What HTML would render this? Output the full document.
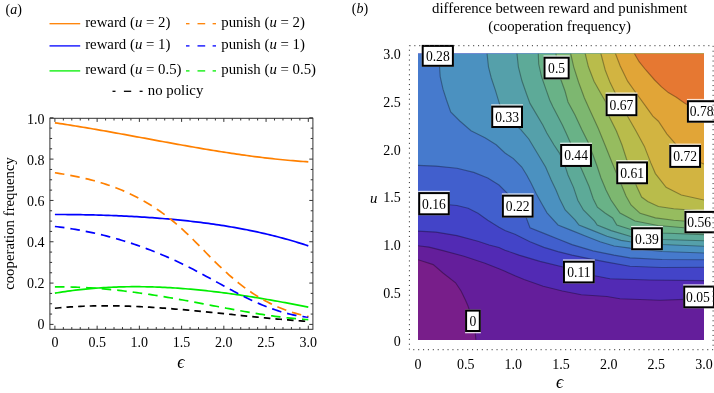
<!DOCTYPE html><html><head><meta charset="utf-8"><style>html,body{margin:0;padding:0;background:#fff;}svg{display:block;will-change:transform;}text{font-family:"Liberation Serif",serif;fill:#000;}</style></head><body>
<svg width="714" height="393" viewBox="0 0 714 393">
<rect width="714" height="393" fill="#fff"/>
<text x="5.5" y="14" font-size="14">(<tspan font-style="italic">a</tspan>)</text>
<line x1="49.5" y1="23.7" x2="80.2" y2="23.7" stroke="#ff8000" stroke-width="1.3"/>
<text x="85.2" y="27" font-size="14.8">reward (<tspan font-style="italic">u</tspan> = 2)</text>
<line x1="186.0" y1="23.7" x2="189.5" y2="23.7" stroke="#ff8000" stroke-width="1.3"/>
<line x1="197.5" y1="23.7" x2="205.2" y2="23.7" stroke="#ff8000" stroke-width="1.3"/>
<line x1="212.6" y1="23.7" x2="216.0" y2="23.7" stroke="#ff8000" stroke-width="1.3"/>
<text x="221.3" y="27" font-size="14.8">punish (<tspan font-style="italic">u</tspan> = 2)</text>
<line x1="49.5" y1="45.9" x2="80.2" y2="45.9" stroke="#0000ff" stroke-width="1.3"/>
<text x="85.2" y="49.2" font-size="14.8">reward (<tspan font-style="italic">u</tspan> = 1)</text>
<line x1="186.0" y1="45.9" x2="189.5" y2="45.9" stroke="#0000ff" stroke-width="1.3"/>
<line x1="197.5" y1="45.9" x2="205.2" y2="45.9" stroke="#0000ff" stroke-width="1.3"/>
<line x1="212.6" y1="45.9" x2="216.0" y2="45.9" stroke="#0000ff" stroke-width="1.3"/>
<text x="221.3" y="49.2" font-size="14.8">punish (<tspan font-style="italic">u</tspan> = 1)</text>
<line x1="49.5" y1="70.9" x2="80.2" y2="70.9" stroke="#00ee00" stroke-width="1.3"/>
<text x="85.2" y="74.2" font-size="14.8">reward (<tspan font-style="italic">u</tspan> = 0.5)</text>
<line x1="186.0" y1="70.9" x2="189.5" y2="70.9" stroke="#00ee00" stroke-width="1.3"/>
<line x1="197.5" y1="70.9" x2="205.2" y2="70.9" stroke="#00ee00" stroke-width="1.3"/>
<line x1="212.6" y1="70.9" x2="216.0" y2="70.9" stroke="#00ee00" stroke-width="1.3"/>
<text x="221.3" y="74.2" font-size="14.8">punish (<tspan font-style="italic">u</tspan> = 0.5)</text>
<line x1="112.5" y1="91.3" x2="115.5" y2="91.3" stroke="#000" stroke-width="1.3"/>
<line x1="123.9" y1="91.3" x2="131.2" y2="91.3" stroke="#000" stroke-width="1.3"/>
<line x1="139.6" y1="91.3" x2="142.6" y2="91.3" stroke="#000" stroke-width="1.3"/>
<text x="147.8" y="94.6" font-size="14.8">no policy</text>
<g stroke="#333" stroke-width="1" fill="none">
<rect x="49.9" y="118.3" width="263" height="211"/>
<path d="M54.9 329.3v-3.6M54.9 118.3v3.6M63.35 329.3v-2.2M63.35 118.3v2.2M71.79 329.3v-2.2M71.79 118.3v2.2M80.24 329.3v-2.2M80.24 118.3v2.2M88.69 329.3v-2.2M88.69 118.3v2.2M97.13 329.3v-3.6M97.13 118.3v3.6M105.58 329.3v-2.2M105.58 118.3v2.2M114.03 329.3v-2.2M114.03 118.3v2.2M122.48 329.3v-2.2M122.48 118.3v2.2M130.92 329.3v-2.2M130.92 118.3v2.2M139.37 329.3v-3.6M139.37 118.3v3.6M147.82 329.3v-2.2M147.82 118.3v2.2M156.26 329.3v-2.2M156.26 118.3v2.2M164.71 329.3v-2.2M164.71 118.3v2.2M173.16 329.3v-2.2M173.16 118.3v2.2M181.6 329.3v-3.6M181.6 118.3v3.6M190.05 329.3v-2.2M190.05 118.3v2.2M198.5 329.3v-2.2M198.5 118.3v2.2M206.95 329.3v-2.2M206.95 118.3v2.2M215.39 329.3v-2.2M215.39 118.3v2.2M223.84 329.3v-3.6M223.84 118.3v3.6M232.29 329.3v-2.2M232.29 118.3v2.2M240.73 329.3v-2.2M240.73 118.3v2.2M249.18 329.3v-2.2M249.18 118.3v2.2M257.63 329.3v-2.2M257.63 118.3v2.2M266.07 329.3v-3.6M266.07 118.3v3.6M274.52 329.3v-2.2M274.52 118.3v2.2M282.97 329.3v-2.2M282.97 118.3v2.2M291.42 329.3v-2.2M291.42 118.3v2.2M299.86 329.3v-2.2M299.86 118.3v2.2M308.31 329.3v-3.6M308.31 118.3v3.6M49.9 324.4h3.6M312.9 324.4h-3.6M49.9 314.07h2.2M312.9 314.07h-2.2M49.9 303.74h2.2M312.9 303.74h-2.2M49.9 293.41h2.2M312.9 293.41h-2.2M49.9 283.08h3.6M312.9 283.08h-3.6M49.9 272.75h2.2M312.9 272.75h-2.2M49.9 262.42h2.2M312.9 262.42h-2.2M49.9 252.09h2.2M312.9 252.09h-2.2M49.9 241.76h3.6M312.9 241.76h-3.6M49.9 231.43h2.2M312.9 231.43h-2.2M49.9 221.1h2.2M312.9 221.1h-2.2M49.9 210.77h2.2M312.9 210.77h-2.2M49.9 200.44h3.6M312.9 200.44h-3.6M49.9 190.11h2.2M312.9 190.11h-2.2M49.9 179.78h2.2M312.9 179.78h-2.2M49.9 169.45h2.2M312.9 169.45h-2.2M49.9 159.12h3.6M312.9 159.12h-3.6M49.9 148.79h2.2M312.9 148.79h-2.2M49.9 138.46h2.2M312.9 138.46h-2.2M49.9 128.13h2.2M312.9 128.13h-2.2M49.9 117.8h3.6M312.9 117.8h-3.6"/>
</g>
<text x="54.9" y="346.9" font-size="14" text-anchor="middle">0</text>
<text x="97.13" y="346.9" font-size="14" text-anchor="middle">0.5</text>
<text x="139.37" y="346.9" font-size="14" text-anchor="middle">1.0</text>
<text x="181.6" y="346.9" font-size="14" text-anchor="middle">1.5</text>
<text x="223.84" y="346.9" font-size="14" text-anchor="middle">2.0</text>
<text x="266.07" y="346.9" font-size="14" text-anchor="middle">2.5</text>
<text x="308.31" y="346.9" font-size="14" text-anchor="middle">3.0</text>
<text x="44.6" y="329" font-size="14" text-anchor="end">0</text>
<text x="44.6" y="288" font-size="14" text-anchor="end">0.2</text>
<text x="44.6" y="247" font-size="14" text-anchor="end">0.4</text>
<text x="44.6" y="206" font-size="14" text-anchor="end">0.6</text>
<text x="44.6" y="165" font-size="14" text-anchor="end">0.8</text>
<text x="44.6" y="124" font-size="14" text-anchor="end">1.0</text>
<text x="177.3" y="367.6" font-size="18" font-style="italic">&#x3F5;</text>
<text transform="translate(14.2 223.5) rotate(-90)" font-size="14.8" text-anchor="middle">cooperation frequency</text>
<path d="M54.9 122.8 L57.46 123.18 L60.02 123.57 L62.58 123.95 L65.14 124.35 L67.7 124.75 L70.26 125.15 L72.82 125.56 L75.38 125.97 L77.94 126.39 L80.5 126.81 L83.06 127.23 L85.62 127.66 L88.17 128.09 L90.73 128.53 L93.29 128.97 L95.85 129.41 L98.41 129.86 L100.97 130.31 L103.53 130.76 L106.09 131.21 L108.65 131.67 L111.21 132.12 L113.77 132.58 L116.33 133.05 L118.89 133.51 L121.45 133.97 L124.01 134.44 L126.57 134.91 L129.13 135.38 L131.69 135.85 L134.25 136.32 L136.81 136.79 L139.37 137.26 L141.93 137.74 L144.49 138.21 L147.05 138.68 L149.61 139.16 L152.16 139.63 L154.72 140.1 L157.28 140.57 L159.84 141.04 L162.4 141.51 L164.96 141.98 L167.52 142.45 L170.08 142.92 L172.64 143.38 L175.2 143.85 L177.76 144.31 L180.32 144.77 L182.88 145.23 L185.44 145.68 L188 146.13 L190.56 146.58 L193.12 147.03 L195.68 147.48 L198.24 147.92 L200.8 148.36 L203.36 148.79 L205.92 149.22 L208.48 149.65 L211.04 150.08 L213.59 150.5 L216.15 150.91 L218.71 151.32 L221.27 151.73 L223.83 152.13 L226.39 152.53 L228.95 152.93 L231.51 153.31 L234.07 153.7 L236.63 154.07 L239.19 154.45 L241.75 154.81 L244.31 155.17 L246.87 155.53 L249.43 155.87 L251.99 156.22 L254.55 156.55 L257.11 156.88 L259.67 157.2 L262.23 157.52 L264.79 157.83 L267.35 158.13 L269.91 158.42 L272.47 158.71 L275.03 158.98 L277.58 159.25 L280.14 159.52 L282.7 159.77 L285.26 160.02 L287.82 160.25 L290.38 160.48 L292.94 160.7 L295.5 160.91 L298.06 161.11 L300.62 161.31 L303.18 161.49 L305.74 161.66 L308.3 161.83" fill="none" stroke="#ff8000" stroke-width="1.7"/>
<path d="M54.9 214.48 L57.46 214.49 L60.02 214.5 L62.58 214.51 L65.14 214.52 L67.7 214.54 L70.26 214.56 L72.82 214.59 L75.38 214.62 L77.94 214.66 L80.5 214.69 L83.06 214.74 L85.62 214.78 L88.17 214.83 L90.73 214.89 L93.29 214.95 L95.85 215.01 L98.41 215.08 L100.97 215.16 L103.53 215.23 L106.09 215.32 L108.65 215.4 L111.21 215.5 L113.77 215.6 L116.33 215.7 L118.89 215.81 L121.45 215.92 L124.01 216.04 L126.57 216.16 L129.13 216.29 L131.69 216.43 L134.25 216.57 L136.81 216.71 L139.37 216.87 L141.93 217.03 L144.49 217.19 L147.05 217.36 L149.61 217.54 L152.16 217.72 L154.72 217.91 L157.28 218.1 L159.84 218.3 L162.4 218.51 L164.96 218.73 L167.52 218.95 L170.08 219.17 L172.64 219.41 L175.2 219.65 L177.76 219.9 L180.32 220.15 L182.88 220.42 L185.44 220.69 L188 220.96 L190.56 221.25 L193.12 221.54 L195.68 221.84 L198.24 222.15 L200.8 222.46 L203.36 222.79 L205.92 223.12 L208.48 223.46 L211.04 223.81 L213.59 224.17 L216.15 224.54 L218.71 224.92 L221.27 225.31 L223.83 225.71 L226.39 226.12 L228.95 226.54 L231.51 226.97 L234.07 227.41 L236.63 227.87 L239.19 228.33 L241.75 228.81 L244.31 229.29 L246.87 229.79 L249.43 230.3 L251.99 230.83 L254.55 231.36 L257.11 231.91 L259.67 232.47 L262.23 233.05 L264.79 233.63 L267.35 234.24 L269.91 234.85 L272.47 235.48 L275.03 236.12 L277.58 236.78 L280.14 237.45 L282.7 238.14 L285.26 238.84 L287.82 239.55 L290.38 240.28 L292.94 241.03 L295.5 241.79 L298.06 242.57 L300.62 243.37 L303.18 244.18 L305.74 245 L308.3 245.85" fill="none" stroke="#0000ff" stroke-width="1.7"/>
<path d="M54.9 293.14 L57.46 292.72 L60.02 292.31 L62.58 291.92 L65.14 291.55 L67.7 291.19 L70.26 290.84 L72.82 290.51 L75.38 290.19 L77.94 289.89 L80.5 289.61 L83.06 289.33 L85.62 289.07 L88.17 288.83 L90.73 288.6 L93.29 288.38 L95.85 288.18 L98.41 287.99 L100.97 287.81 L103.53 287.65 L106.09 287.5 L108.65 287.37 L111.21 287.24 L113.77 287.13 L116.33 287.03 L118.89 286.95 L121.45 286.88 L124.01 286.82 L126.57 286.77 L129.13 286.73 L131.69 286.71 L134.25 286.7 L136.81 286.7 L139.37 286.71 L141.93 286.73 L144.49 286.76 L147.05 286.81 L149.61 286.87 L152.16 286.94 L154.72 287.01 L157.28 287.1 L159.84 287.2 L162.4 287.32 L164.96 287.44 L167.52 287.57 L170.08 287.71 L172.64 287.86 L175.2 288.02 L177.76 288.2 L180.32 288.38 L182.88 288.57 L185.44 288.77 L188 288.98 L190.56 289.2 L193.12 289.43 L195.68 289.66 L198.24 289.91 L200.8 290.16 L203.36 290.43 L205.92 290.7 L208.48 290.98 L211.04 291.27 L213.59 291.56 L216.15 291.87 L218.71 292.18 L221.27 292.5 L223.83 292.83 L226.39 293.17 L228.95 293.51 L231.51 293.86 L234.07 294.22 L236.63 294.58 L239.19 294.95 L241.75 295.33 L244.31 295.72 L246.87 296.11 L249.43 296.51 L251.99 296.91 L254.55 297.32 L257.11 297.74 L259.67 298.16 L262.23 298.59 L264.79 299.03 L267.35 299.47 L269.91 299.91 L272.47 300.36 L275.03 300.82 L277.58 301.28 L280.14 301.75 L282.7 302.22 L285.26 302.69 L287.82 303.17 L290.38 303.66 L292.94 304.15 L295.5 304.64 L298.06 305.14 L300.62 305.64 L303.18 306.15 L305.74 306.66 L308.3 307.17" fill="none" stroke="#00ee00" stroke-width="1.7"/>
<path d="M54.9 172.76 L57.46 173.15 L60.03 173.55 L62.59 173.97 L65.15 174.41 L67.71 174.86 L70.28 175.32 L72.84 175.81 L75.4 176.32 L77.96 176.84 L80.53 177.39 L83.09 177.96 L85.65 178.56 L88.21 179.18 L90.78 179.83 L93.34 180.5 L95.9 181.21 L98.46 181.94 L101.03 182.7 L103.59 183.5 L106.15 184.33 L108.72 185.19 L111.28 186.09 L113.84 187.02 L116.4 187.99 L118.97 189 L121.53 190.05 L124.09 191.14 L126.65 192.27 L129.22 193.44 L131.78 194.66 L134.34 195.92 L136.9 197.23 L139.47 198.58 L142.03 199.99 L144.59 201.44 L147.15 202.94 L149.72 204.5 L152.28 206.1 L154.84 207.77 L157.41 209.48 L159.97 211.25 L162.53 213.08 L165.09 214.97 L167.66 216.91 L170.22 218.92 L172.78 220.99 L175.34 223.12 L177.91 225.31 L180.47 227.57 L183.03 229.89 L185.59 232.28 L188.16 234.72 L190.72 237.22 L193.28 239.75 L195.84 242.31 L198.41 244.9 L200.97 247.51 L203.53 250.12 L206.09 252.74 L208.66 255.34 L211.22 257.93 L213.78 260.5 L216.35 263.03 L218.91 265.53 L221.47 267.98 L224.03 270.38 L226.6 272.73 L229.16 275.02 L231.72 277.26 L234.28 279.45 L236.85 281.57 L239.41 283.63 L241.97 285.63 L244.53 287.56 L247.1 289.42 L249.66 291.22 L252.22 292.95 L254.78 294.62 L257.35 296.23 L259.91 297.78 L262.47 299.27 L265.04 300.69 L267.6 302.06 L270.16 303.37 L272.72 304.62 L275.29 305.81 L277.85 306.95 L280.41 308.03 L282.97 309.06 L285.54 310.03 L288.1 310.96 L290.66 311.83 L293.22 312.65 L295.79 313.41 L298.35 314.13 L300.91 314.8 L303.47 315.43 L306.04 316 L308.6 316.53" fill="none" stroke="#ff8000" stroke-width="1.7" stroke-dasharray="9.6 6.0"/>
<path d="M54.9 226.48 L57.46 226.78 L60.02 227.1 L62.58 227.44 L65.14 227.79 L67.7 228.17 L70.26 228.56 L72.82 228.97 L75.38 229.4 L77.94 229.84 L80.5 230.3 L83.06 230.78 L85.62 231.28 L88.17 231.8 L90.73 232.34 L93.29 232.89 L95.85 233.46 L98.41 234.05 L100.97 234.66 L103.53 235.29 L106.09 235.93 L108.65 236.6 L111.21 237.28 L113.77 237.98 L116.33 238.7 L118.89 239.44 L121.45 240.2 L124.01 240.98 L126.57 241.77 L129.13 242.59 L131.69 243.42 L134.25 244.28 L136.81 245.15 L139.37 246.04 L141.93 246.95 L144.49 247.88 L147.05 248.84 L149.61 249.81 L152.16 250.79 L154.72 251.8 L157.28 252.83 L159.84 253.88 L162.4 254.95 L164.96 256.04 L167.52 257.15 L170.08 258.27 L172.64 259.42 L175.2 260.59 L177.76 261.78 L180.32 262.99 L182.88 264.22 L185.44 265.47 L188 266.74 L190.56 268.03 L193.12 269.34 L195.68 270.66 L198.24 272.01 L200.8 273.37 L203.36 274.74 L205.92 276.13 L208.48 277.52 L211.04 278.92 L213.59 280.32 L216.15 281.72 L218.71 283.13 L221.27 284.53 L223.83 285.93 L226.39 287.32 L228.95 288.7 L231.51 290.07 L234.07 291.43 L236.63 292.78 L239.19 294.11 L241.75 295.42 L244.31 296.71 L246.87 297.97 L249.43 299.21 L251.99 300.43 L254.55 301.61 L257.11 302.76 L259.67 303.88 L262.23 304.97 L264.79 306.01 L267.35 307.02 L269.91 307.99 L272.47 308.92 L275.03 309.81 L277.58 310.65 L280.14 311.46 L282.7 312.22 L285.26 312.93 L287.82 313.61 L290.38 314.23 L292.94 314.81 L295.5 315.34 L298.06 315.83 L300.62 316.26 L303.18 316.65 L305.74 316.99 L308.3 317.27" fill="none" stroke="#0000ff" stroke-width="1.7" stroke-dasharray="9.6 6.0"/>
<path d="M54.9 286.88 L57.46 286.86 L60.02 286.86 L62.58 286.87 L65.14 286.9 L67.7 286.94 L70.26 287 L72.82 287.07 L75.38 287.15 L77.94 287.24 L80.5 287.35 L83.06 287.47 L85.62 287.61 L88.17 287.75 L90.73 287.91 L93.29 288.08 L95.85 288.26 L98.41 288.46 L100.97 288.66 L103.53 288.88 L106.09 289.11 L108.65 289.35 L111.21 289.59 L113.77 289.85 L116.33 290.12 L118.89 290.4 L121.45 290.69 L124.01 290.99 L126.57 291.3 L129.13 291.61 L131.69 291.94 L134.25 292.27 L136.81 292.62 L139.37 292.97 L141.93 293.33 L144.49 293.7 L147.05 294.07 L149.61 294.45 L152.16 294.84 L154.72 295.24 L157.28 295.65 L159.84 296.06 L162.4 296.47 L164.96 296.9 L167.52 297.33 L170.08 297.76 L172.64 298.2 L175.2 298.65 L177.76 299.1 L180.32 299.56 L182.88 300.02 L185.44 300.48 L188 300.96 L190.56 301.43 L193.12 301.91 L195.68 302.39 L198.24 302.87 L200.8 303.35 L203.36 303.84 L205.92 304.33 L208.48 304.82 L211.04 305.31 L213.59 305.79 L216.15 306.28 L218.71 306.77 L221.27 307.25 L223.83 307.74 L226.39 308.22 L228.95 308.69 L231.51 309.17 L234.07 309.64 L236.63 310.11 L239.19 310.57 L241.75 311.02 L244.31 311.48 L246.87 311.92 L249.43 312.36 L251.99 312.79 L254.55 313.22 L257.11 313.63 L259.67 314.04 L262.23 314.44 L264.79 314.83 L267.35 315.21 L269.91 315.58 L272.47 315.95 L275.03 316.3 L277.58 316.63 L280.14 316.96 L282.7 317.28 L285.26 317.58 L287.82 317.87 L290.38 318.14 L292.94 318.4 L295.5 318.65 L298.06 318.88 L300.62 319.1 L303.18 319.3 L305.74 319.49 L308.3 319.65" fill="none" stroke="#00ee00" stroke-width="1.7" stroke-dasharray="9.6 6.0"/>
<path d="M54.9 308.23 L57.46 307.98 L60.02 307.74 L62.58 307.52 L65.14 307.31 L67.7 307.12 L70.26 306.94 L72.82 306.78 L75.38 306.63 L77.94 306.49 L80.5 306.36 L83.06 306.25 L85.62 306.15 L88.17 306.07 L90.73 305.99 L93.29 305.93 L95.85 305.88 L98.41 305.84 L100.97 305.81 L103.53 305.8 L106.09 305.79 L108.65 305.8 L111.21 305.82 L113.77 305.84 L116.33 305.88 L118.89 305.93 L121.45 305.98 L124.01 306.05 L126.57 306.13 L129.13 306.21 L131.69 306.3 L134.25 306.41 L136.81 306.52 L139.37 306.63 L141.93 306.76 L144.49 306.9 L147.05 307.04 L149.61 307.19 L152.16 307.34 L154.72 307.5 L157.28 307.67 L159.84 307.85 L162.4 308.03 L164.96 308.22 L167.52 308.41 L170.08 308.61 L172.64 308.82 L175.2 309.03 L177.76 309.24 L180.32 309.46 L182.88 309.68 L185.44 309.91 L188 310.14 L190.56 310.38 L193.12 310.61 L195.68 310.86 L198.24 311.1 L200.8 311.35 L203.36 311.6 L205.92 311.85 L208.48 312.11 L211.04 312.37 L213.59 312.63 L216.15 312.89 L218.71 313.15 L221.27 313.41 L223.83 313.68 L226.39 313.94 L228.95 314.21 L231.51 314.47 L234.07 314.74 L236.63 315 L239.19 315.27 L241.75 315.53 L244.31 315.79 L246.87 316.06 L249.43 316.32 L251.99 316.58 L254.55 316.83 L257.11 317.09 L259.67 317.34 L262.23 317.59 L264.79 317.84 L267.35 318.09 L269.91 318.33 L272.47 318.57 L275.03 318.8 L277.58 319.04 L280.14 319.26 L282.7 319.49 L285.26 319.71 L287.82 319.92 L290.38 320.13 L292.94 320.34 L295.5 320.54 L298.06 320.73 L300.62 320.92 L303.18 321.1 L305.74 321.28 L308.3 321.45" fill="none" stroke="#000" stroke-width="1.7" stroke-dasharray="6.6 5.04"/>
<text x="351.8" y="12.9" font-size="14">(<tspan font-style="italic">b</tspan>)</text>
<text x="559.7" y="12.9" font-size="14.8" text-anchor="middle">difference between reward and punishment</text>
<text x="559.6" y="31.0" font-size="14.8" text-anchor="middle">(cooperation frequency)</text>
<defs><clipPath id="cp"><rect x="418.0" y="53.7" width="286.0" height="286.3"/></clipPath></defs>
<g clip-path="url(#cp)">
<rect x="418.0" y="53.7" width="286.0" height="286.3" fill="#641e9b"/>
<path d="M416 342 L416 259.7 L418 259.7 L433.2 264.6 L443 273 L455.6 282.8 L461.2 291.2 L465.4 300 L468 306 L473 321 L475.2 332.7 L475.9 339.7 L475.9 342Z" fill="#781e8a"/>
<path d="M415.02 245.32 L418 245.7 L429 247.1 L443 250.6 L464 256.2 L485 263.2 L499 268.8 L505 271.3 L515 275.8 L524.1 279.5 L543.2 286.2 L562.3 291 L581.3 294.8 L607 296.5 L620 298.8 L660 300.2 L684 299.4 L704 298.8 L707 298.71 L709 298.71 L709 48.7 L413 48.7 L413 245.32Z" fill="#522ab4"/>
<path d="M415 230.93 L418 231.1 L436 232.1 L457 235.6 L478 241.2 L489.2 245 L499 247.5 L505 250.2 L519 255.1 L540 261.4 L563.1 267 L579 272 L594.7 275.7 L610 278.8 L650 280 L704 280.6 L707 280.63 L709 280.63 L709 48.7 L413 48.7 L413 230.93Z" fill="#4344c8"/>
<path d="M415 202.91 L418 203 L434 203.5 L449.3 204.8 L457 205.5 L468.2 208.3 L478 213.2 L487.8 220.2 L499 227.2 L505 230.6 L515 234.2 L530 241.8 L544 247.4 L558 251.6 L572 255.1 L588.8 258.6 L607 262.1 L630 266.3 L662 267.5 L704 267.3 L707 267.29 L709 267.29 L709 48.7 L413 48.7 L413 202.91Z" fill="#415fcd"/>
<path d="M415 165.28 L418 165.4 L436 166.1 L457 168.2 L473.8 172.4 L487.8 178 L499 185 L507.4 193.4 L517 206 L526 217 L530 227.8 L544 233.4 L558 239 L572 244.6 L593 250.9 L614 255.1 L630 257.9 L662 259.5 L704 259.8 L707 259.82 L709 259.82 L709 48.7 L413 48.7 L413 165.28Z" fill="#467acd"/>
<path d="M437.63 51.02 L438 54 L439.5 66.1 L440.2 76.6 L443 89.2 L446.5 100 L450.7 111.9 L459.8 121 L471 130.8 L485 137.8 L496.2 144.8 L505 153 L513.4 158.6 L521.8 167 L526.7 175 L531 183 L536 193.2 L541.4 203 L547 212.8 L558 225 L572 230.6 L586 236.2 L600 241.8 L614 246 L630 248.1 L662 251.5 L704 253 L707 253.11 L709 253.11 L709 48.7 L437.63 48.7Z" fill="#4b91c0"/>
<path d="M486.77 51.02 L487.1 54 L488.5 66.8 L491.3 78 L495.5 90.6 L499.7 104.6 L507 117 L520.4 129.2 L528.8 139 L537.2 153 L545.6 167 L551.2 180 L556 190 L559.6 198.8 L565.2 210 L575 219.8 L579 225 L593 230.6 L607 236.2 L621 240.4 L630 241.8 L662 244.5 L704 246.3 L707 246.43 L709 246.43 L709 48.7 L486.77 48.7Z" fill="#55a0aa"/>
<path d="M516.67 51.02 L517 54 L518.4 66.8 L521.9 80.8 L526.8 94.8 L530 103.4 L542.8 125 L546.8 133 L554 145 L559.6 153.4 L563.8 162 L568 175 L573.6 187.6 L577.8 200.2 L583.4 210 L594.6 221.2 L597.2 225 L611.2 230.6 L630 236.2 L662 239.5 L704 240.8 L707 240.89 L709 240.89 L709 48.7 L516.67 48.7Z" fill="#5daa98"/>
<path d="M538.18 51 L538.3 54 L538.7 64 L541.5 76.6 L546.4 90.6 L549.7 100 L553 107 L562.4 125 L566.1 133 L576 155.5 L580.6 167 L584.1 175 L589 186.2 L593.2 198.8 L597.4 207.2 L605 213 L612.6 217.9 L616.8 225 L630 229.2 L662 233 L704 234.7 L707 234.82 L709 234.82 L709 48.7 L538.18 48.7Z" fill="#69b287"/>
<path d="M555.58 51.03 L556 54 L558 68 L561 80 L565 91 L568 102 L575 115 L582 130 L588 142 L593 155 L597 166 L601 178 L606 190 L611 200 L620 213 L635 221 L658 225.5 L684 227.8 L704 228.6 L707 228.72 L709 228.72 L709 48.7 L555.58 48.7Z" fill="#7db770"/>
<path d="M570.14 51.07 L570.8 54 L573.7 66.8 L578.6 82.2 L584.4 98 L589.8 110 L598.2 128.2 L605 145 L611 160 L617.2 175.1 L621.8 185.8 L626 196 L631 205 L640.1 213.3 L655.4 217.9 L673.7 220.2 L690 221.5 L704 222 L707 222.11 L709 222.11 L709 48.7 L570.14 48.7Z" fill="#96bc5f"/>
<path d="M584.59 51.08 L585.3 54 L588.4 66.8 L594 81.2 L601 93.8 L605.9 102.2 L609.4 117 L616.4 131 L622 145 L626.5 159 L632 173 L636.5 186 L641.6 197 L647.7 201.5 L658.4 206.5 L673.7 208.7 L704 211 L706.99 211.23 L709 211.23 L709 48.7 L584.59 48.7Z" fill="#b9bc4b"/>
<path d="M600.24 51.1 L601 54 L605.2 70 L610.1 82.6 L615 92.4 L621.5 105 L628 117 L636 131 L644.4 146.4 L650.8 162.9 L655.4 173.6 L666.1 187.3 L681.3 195 L704 200 L706.93 200.65 L709 200.65 L709 48.7 L600.24 48.7Z" fill="#d2b441"/>
<path d="M614.53 51.2 L615.6 54 L620.2 66 L627.6 81.2 L634.6 91 L645.8 106.4 L652.8 116.2 L658.4 121.2 L666.8 133.8 L675.2 143.6 L685 156.4 L704 164 L706.79 165.11 L709 165.11 L709 48.7 L614.53 48.7Z" fill="#e1a537"/>
<path d="M633.09 51.41 L634.6 54 L639.1 61.7 L645.8 70 L654.6 80 L661.5 86.9 L668.3 92.6 L676.3 97.2 L684.4 102.9 L695 109 L704 113 L706.74 114.22 L709 114.22 L709 48.7 L633.09 48.7Z" fill="#e67832"/>
<path d="M418 259.7 L433.2 264.6 L443 273 L455.6 282.8 L461.2 291.2 L465.4 300 L468 306 L473 321 L475.2 332.7 L475.9 339.7 M415.02 245.32 L418 245.7 L429 247.1 L443 250.6 L464 256.2 L485 263.2 L499 268.8 L505 271.3 L515 275.8 L524.1 279.5 L543.2 286.2 L562.3 291 L581.3 294.8 L607 296.5 L620 298.8 L660 300.2 L684 299.4 L704 298.8 L707 298.71 M415 230.93 L418 231.1 L436 232.1 L457 235.6 L478 241.2 L489.2 245 L499 247.5 L505 250.2 L519 255.1 L540 261.4 L563.1 267 L579 272 L594.7 275.7 L610 278.8 L650 280 L704 280.6 L707 280.63 M415 202.91 L418 203 L434 203.5 L449.3 204.8 L457 205.5 L468.2 208.3 L478 213.2 L487.8 220.2 L499 227.2 L505 230.6 L515 234.2 L530 241.8 L544 247.4 L558 251.6 L572 255.1 L588.8 258.6 L607 262.1 L630 266.3 L662 267.5 L704 267.3 L707 267.29 M415 165.28 L418 165.4 L436 166.1 L457 168.2 L473.8 172.4 L487.8 178 L499 185 L507.4 193.4 L517 206 L526 217 L530 227.8 L544 233.4 L558 239 L572 244.6 L593 250.9 L614 255.1 L630 257.9 L662 259.5 L704 259.8 L707 259.82 M437.63 51.02 L438 54 L439.5 66.1 L440.2 76.6 L443 89.2 L446.5 100 L450.7 111.9 L459.8 121 L471 130.8 L485 137.8 L496.2 144.8 L505 153 L513.4 158.6 L521.8 167 L526.7 175 L531 183 L536 193.2 L541.4 203 L547 212.8 L558 225 L572 230.6 L586 236.2 L600 241.8 L614 246 L630 248.1 L662 251.5 L704 253 L707 253.11 M486.77 51.02 L487.1 54 L488.5 66.8 L491.3 78 L495.5 90.6 L499.7 104.6 L507 117 L520.4 129.2 L528.8 139 L537.2 153 L545.6 167 L551.2 180 L556 190 L559.6 198.8 L565.2 210 L575 219.8 L579 225 L593 230.6 L607 236.2 L621 240.4 L630 241.8 L662 244.5 L704 246.3 L707 246.43 M516.67 51.02 L517 54 L518.4 66.8 L521.9 80.8 L526.8 94.8 L530 103.4 L542.8 125 L546.8 133 L554 145 L559.6 153.4 L563.8 162 L568 175 L573.6 187.6 L577.8 200.2 L583.4 210 L594.6 221.2 L597.2 225 L611.2 230.6 L630 236.2 L662 239.5 L704 240.8 L707 240.89 M538.18 51 L538.3 54 L538.7 64 L541.5 76.6 L546.4 90.6 L549.7 100 L553 107 L562.4 125 L566.1 133 L576 155.5 L580.6 167 L584.1 175 L589 186.2 L593.2 198.8 L597.4 207.2 L605 213 L612.6 217.9 L616.8 225 L630 229.2 L662 233 L704 234.7 L707 234.82 M555.58 51.03 L556 54 L558 68 L561 80 L565 91 L568 102 L575 115 L582 130 L588 142 L593 155 L597 166 L601 178 L606 190 L611 200 L620 213 L635 221 L658 225.5 L684 227.8 L704 228.6 L707 228.72 M570.14 51.07 L570.8 54 L573.7 66.8 L578.6 82.2 L584.4 98 L589.8 110 L598.2 128.2 L605 145 L611 160 L617.2 175.1 L621.8 185.8 L626 196 L631 205 L640.1 213.3 L655.4 217.9 L673.7 220.2 L690 221.5 L704 222 L707 222.11 M584.59 51.08 L585.3 54 L588.4 66.8 L594 81.2 L601 93.8 L605.9 102.2 L609.4 117 L616.4 131 L622 145 L626.5 159 L632 173 L636.5 186 L641.6 197 L647.7 201.5 L658.4 206.5 L673.7 208.7 L704 211 L706.99 211.23 M600.24 51.1 L601 54 L605.2 70 L610.1 82.6 L615 92.4 L621.5 105 L628 117 L636 131 L644.4 146.4 L650.8 162.9 L655.4 173.6 L666.1 187.3 L681.3 195 L704 200 L706.93 200.65 M614.53 51.2 L615.6 54 L620.2 66 L627.6 81.2 L634.6 91 L645.8 106.4 L652.8 116.2 L658.4 121.2 L666.8 133.8 L675.2 143.6 L685 156.4 L704 164 L706.79 165.11 M633.09 51.41 L634.6 54 L639.1 61.7 L645.8 70 L654.6 80 L661.5 86.9 L668.3 92.6 L676.3 97.2 L684.4 102.9 L695 109 L704 113 L706.74 114.22" fill="none" stroke="#000" stroke-opacity="0.32" stroke-width="1.15"/>
</g>
<rect x="421.7" y="43.6" width="32.2" height="23.2" fill="#fff" fill-opacity="0.8"/>
<rect x="422.7" y="45.9" width="30.2" height="19.9" fill="#fff" stroke="#000" stroke-width="2"/>
<text x="437.8" y="60.85" font-size="13.6" text-anchor="middle">0.28</text>
<rect x="543.5" y="55.4" width="26.2" height="24" fill="#fff" fill-opacity="0.8"/>
<rect x="544.5" y="57.7" width="24.2" height="20.7" fill="#fff" stroke="#000" stroke-width="2"/>
<text x="556.6" y="73.05" font-size="13.6" text-anchor="middle">0.5</text>
<rect x="491.2" y="104.3" width="31.8" height="23.7" fill="#fff" fill-opacity="0.8"/>
<rect x="492.2" y="106.6" width="29.8" height="20.4" fill="#fff" stroke="#000" stroke-width="2"/>
<text x="507.1" y="121.8" font-size="13.6" text-anchor="middle">0.33</text>
<rect x="605.6" y="92.5" width="31.8" height="23.7" fill="#fff" fill-opacity="0.8"/>
<rect x="606.6" y="94.8" width="29.8" height="20.4" fill="#fff" stroke="#000" stroke-width="2"/>
<text x="621.5" y="110" font-size="13.6" text-anchor="middle">0.67</text>
<rect x="686.9" y="98.9" width="31.8" height="23.8" fill="#fff" fill-opacity="0.8"/>
<rect x="687.9" y="101.2" width="29.8" height="20.5" fill="#fff" stroke="#000" stroke-width="2"/>
<text x="689.8" y="116.45" font-size="13.6">0.78</text>
<rect x="560.15" y="142.65" width="31.8" height="24.3" fill="#fff" fill-opacity="0.8"/>
<rect x="561.15" y="144.95" width="29.8" height="21" fill="#fff" stroke="#000" stroke-width="2"/>
<text x="576.05" y="160.45" font-size="13.6" text-anchor="middle">0.44</text>
<rect x="669.25" y="143.6" width="31.8" height="24.3" fill="#fff" fill-opacity="0.8"/>
<rect x="670.25" y="145.9" width="29.8" height="21" fill="#fff" stroke="#000" stroke-width="2"/>
<text x="685.15" y="161.4" font-size="13.6" text-anchor="middle">0.72</text>
<rect x="616.2" y="160.1" width="31.8" height="24.2" fill="#fff" fill-opacity="0.8"/>
<rect x="617.2" y="162.4" width="29.8" height="20.9" fill="#fff" stroke="#000" stroke-width="2"/>
<text x="632.1" y="177.85" font-size="13.6" text-anchor="middle">0.61</text>
<rect x="418.2" y="190.8" width="31.6" height="24.5" fill="#fff" fill-opacity="0.8"/>
<rect x="419.2" y="193.1" width="29.6" height="21.2" fill="#fff" stroke="#000" stroke-width="2"/>
<text x="434" y="208.7" font-size="13.6" text-anchor="middle">0.16</text>
<rect x="501.85" y="193.35" width="31.8" height="24.3" fill="#fff" fill-opacity="0.8"/>
<rect x="502.85" y="195.65" width="29.8" height="21" fill="#fff" stroke="#000" stroke-width="2"/>
<text x="517.75" y="211.15" font-size="13.6" text-anchor="middle">0.22</text>
<rect x="684.4" y="209.6" width="31.8" height="23.7" fill="#fff" fill-opacity="0.8"/>
<rect x="685.4" y="211.9" width="29.8" height="20.4" fill="#fff" stroke="#000" stroke-width="2"/>
<text x="687.3" y="227.1" font-size="13.6">0.56</text>
<rect x="631.1" y="225.95" width="31.8" height="24.3" fill="#fff" fill-opacity="0.8"/>
<rect x="632.1" y="228.25" width="29.8" height="21" fill="#fff" stroke="#000" stroke-width="2"/>
<text x="647" y="243.75" font-size="13.6" text-anchor="middle">0.39</text>
<rect x="562.95" y="259.4" width="31.8" height="24" fill="#fff" fill-opacity="0.8"/>
<rect x="563.95" y="261.7" width="29.8" height="20.7" fill="#fff" stroke="#000" stroke-width="2"/>
<text x="578.85" y="277.05" font-size="13.6" text-anchor="middle">0.11</text>
<rect x="683.2" y="284.3" width="31.8" height="24" fill="#fff" fill-opacity="0.8"/>
<rect x="684.2" y="286.6" width="29.8" height="20.7" fill="#fff" stroke="#000" stroke-width="2"/>
<text x="686.1" y="301.95" font-size="13.6">0.05</text>
<rect x="465.1" y="309.6" width="15.7" height="23.7" fill="#fff" fill-opacity="0.8"/>
<rect x="466.1" y="310.6" width="13.7" height="20.4" fill="#fff" stroke="#000" stroke-width="2"/>
<text x="472.95" y="325.8" font-size="13.6" text-anchor="middle">0</text>
<rect x="409.4" y="45.7" width="303.7" height="304" fill="none" stroke="#333" stroke-width="1" stroke-dasharray="1.1 3.8"/>
<text x="418" y="369" font-size="14" text-anchor="middle">0</text>
<text x="400.8" y="345.5" font-size="14" text-anchor="end">0</text>
<text x="465.67" y="369" font-size="14" text-anchor="middle">0.5</text>
<text x="400.8" y="297.78" font-size="14" text-anchor="end">0.5</text>
<text x="513.33" y="369" font-size="14" text-anchor="middle">1.0</text>
<text x="400.8" y="250.07" font-size="14" text-anchor="end">1.0</text>
<text x="561" y="369" font-size="14" text-anchor="middle">1.5</text>
<text x="400.8" y="202.35" font-size="14" text-anchor="end">1.5</text>
<text x="608.67" y="369" font-size="14" text-anchor="middle">2.0</text>
<text x="400.8" y="154.63" font-size="14" text-anchor="end">2.0</text>
<text x="656.33" y="369" font-size="14" text-anchor="middle">2.5</text>
<text x="400.8" y="106.92" font-size="14" text-anchor="end">2.5</text>
<text x="704" y="369" font-size="14" text-anchor="middle">3.0</text>
<text x="400.8" y="59.2" font-size="14" text-anchor="end">3.0</text>
<text x="555.9" y="388" font-size="18" font-style="italic">&#x3F5;</text>
<text x="370" y="203.2" font-size="14.8" font-style="italic">u</text>
</svg></body></html>
